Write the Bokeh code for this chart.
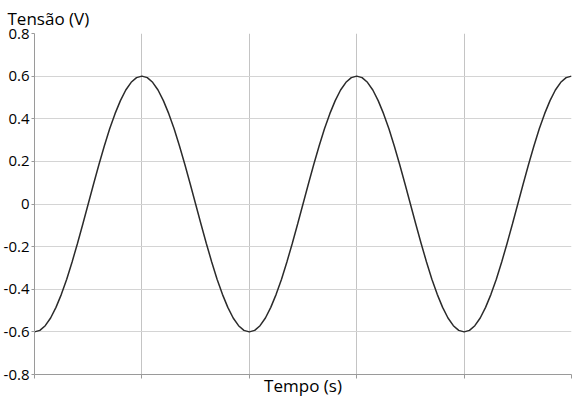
from bokeh.plotting import figure
from bokeh.models import FixedTicker
from bokeh.embed import file_html
from bokeh.resources import INLINE

# Time (arbitrary units, one unit per vertical gridline)
time_s = [
    0.00, 0.05, 0.10, 0.15, 0.20, 0.25, 0.30, 0.35, 0.40, 0.45,
    0.50, 0.55, 0.60, 0.65, 0.70, 0.75, 0.80, 0.85, 0.90, 0.95,
    1.00, 1.05, 1.10, 1.15, 1.20, 1.25, 1.30, 1.35, 1.40, 1.45,
    1.50, 1.55, 1.60, 1.65, 1.70, 1.75, 1.80, 1.85, 1.90, 1.95,
    2.00, 2.05, 2.10, 2.15, 2.20, 2.25, 2.30, 2.35, 2.40, 2.45,
    2.50, 2.55, 2.60, 2.65, 2.70, 2.75, 2.80, 2.85, 2.90, 2.95,
    3.00, 3.05, 3.10, 3.15, 3.20, 3.25, 3.30, 3.35, 3.40, 3.45,
    3.50, 3.55, 3.60, 3.65, 3.70, 3.75, 3.80, 3.85, 3.90, 3.95,
    4.00, 4.05, 4.10, 4.15, 4.20, 4.25, 4.30, 4.35, 4.40, 4.45,
    4.50, 4.55, 4.60, 4.65, 4.70, 4.75, 4.80, 4.85, 4.90, 4.95,
    5.00,
]

# Voltage (V)
voltage_v = [
    -0.600, -0.593, -0.571, -0.535, -0.485, -0.424, -0.353, -0.272, -0.185, -0.094,
    0.000, 0.094, 0.185, 0.272, 0.353, 0.424, 0.485, 0.535, 0.571, 0.593,
    0.600, 0.593, 0.571, 0.535, 0.485, 0.424, 0.353, 0.272, 0.185, 0.094,
    0.000, -0.094, -0.185, -0.272, -0.353, -0.424, -0.485, -0.535, -0.571, -0.593,
    -0.600, -0.593, -0.571, -0.535, -0.485, -0.424, -0.353, -0.272, -0.185, -0.094,
    0.000, 0.094, 0.185, 0.272, 0.353, 0.424, 0.485, 0.535, 0.571, 0.593,
    0.600, 0.593, 0.571, 0.535, 0.485, 0.424, 0.353, 0.272, 0.185, 0.094,
    0.000, -0.094, -0.185, -0.272, -0.353, -0.424, -0.485, -0.535, -0.571, -0.593,
    -0.600, -0.593, -0.571, -0.535, -0.485, -0.424, -0.353, -0.272, -0.185, -0.094,
    0.000, 0.094, 0.185, 0.272, 0.353, 0.424, 0.485, 0.535, 0.571, 0.593,
    0.600,
]

y_ticks = [-0.8, -0.6, -0.4, -0.2, 0.0, 0.2, 0.4, 0.6, 0.8]
y_tick_labels = ["-0.8", "-0.6", "-0.4", "-0.2", "0", "0.2", "0.4", "0.6", "0.8"]
x_ticks = [0, 1, 2, 3, 4, 5]

FONT = "Open Sans"

p = figure(
    frame_width=537, frame_height=341,
    x_range=(0, 5), y_range=(-0.8, 0.8),
    output_backend="svg", toolbar_location=None,
    title="Tensão (V)",
    min_border_left=0, min_border_right=2, min_border_top=0, min_border_bottom=0,
)
p.outline_line_color = None
p.background_fill_color = "white"
p.border_fill_color = "white"

p.title.align = "left"
p.title.offset = -27
p.title.text_font = FONT
p.title.text_font_size = "17px"
p.title.text_font_style = "normal"
p.title.text_color = "black"
p.title.standoff = 8

# grids
p.xgrid.ticker = FixedTicker(ticks=x_ticks)
p.ygrid.ticker = FixedTicker(ticks=y_ticks)
p.xgrid.grid_line_color = "#c4c4c4"
p.ygrid.grid_line_color = "#d4d4d4"

# y axis
p.yaxis.ticker = FixedTicker(ticks=y_ticks)
p.yaxis.major_label_overrides = dict(zip(y_ticks, y_tick_labels))
p.yaxis.major_label_text_font = FONT
p.yaxis.major_label_text_font_size = "15px"
p.yaxis.major_label_text_color = "black"
p.yaxis.major_label_standoff = 2
p.yaxis.major_tick_out = 3
p.yaxis.major_tick_in = 0
p.yaxis.minor_tick_line_color = None
p.yaxis.axis_line_color = "#9a9a9a"
p.yaxis.major_tick_line_color = "#9a9a9a"

# x axis
p.xaxis.ticker = FixedTicker(ticks=x_ticks)
p.xaxis.major_label_overrides = {t: "" for t in x_ticks}
p.xaxis.major_label_text_font_size = "1px"
p.xaxis.major_label_standoff = 0
p.xaxis.major_tick_out = 4
p.xaxis.major_tick_in = 0
p.xaxis.minor_tick_line_color = None
p.xaxis.axis_line_color = "#9a9a9a"
p.xaxis.major_tick_line_color = "#9a9a9a"
p.xaxis.axis_label = "Tempo (s)"
p.xaxis.axis_label_text_font = FONT
p.xaxis.axis_label_text_font_size = "17px"
p.xaxis.axis_label_text_font_style = "normal"
p.xaxis.axis_label_text_color = "black"
p.xaxis.axis_label_standoff = -5

p.line(time_s, voltage_v, line_color="#2b2b2b", line_width=1.5)

open("out.html", "w").write(file_html(p, INLINE))
